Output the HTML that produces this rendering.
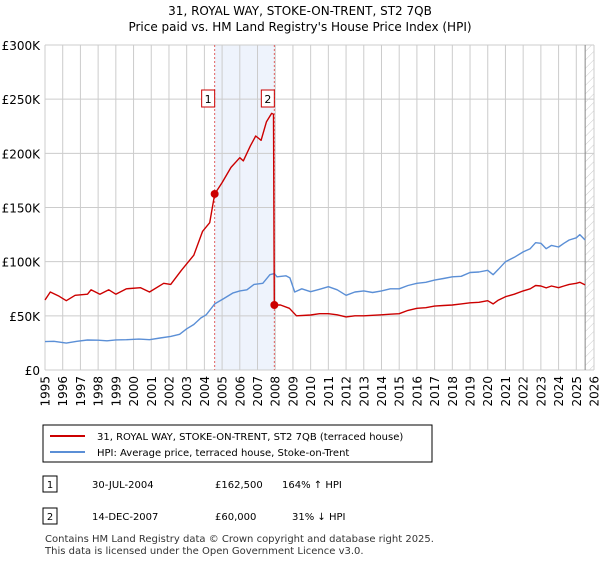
<!DOCTYPE html>
<html><head><meta charset="utf-8"><style>
body{margin:0;background:#fff;font-family:"DejaVu Sans","Liberation Sans",sans-serif;}
svg text{font-family:"DejaVu Sans","Liberation Sans",sans-serif;}
</style></head><body>
<svg id="c" width="600" height="560" viewBox="0 0 600 560">
<defs><pattern id="hatch" width="6" height="6" patternUnits="userSpaceOnUse" patternTransform="rotate(45)"><line x1="0" y1="0" x2="0" y2="6" stroke="#ccc" stroke-width="1"/></pattern></defs>
<text x="300" y="15" text-anchor="middle" font-size="12" fill="#000">31, ROYAL WAY, STOKE-ON-TRENT, ST2 7QB</text>
<text x="300" y="31" text-anchor="middle" font-size="12" fill="#000">Price paid vs. HM Land Registry's House Price Index (HPI)</text>
<g id="grid"></g><g id="marks"></g>
<g>
<rect x="43" y="425" width="389" height="37" fill="#fff" stroke="#000" stroke-width="1"/>
<line x1="50" y1="436" x2="85" y2="436" stroke="#c00" stroke-width="2"/>
<text x="97" y="440" font-size="10">31, ROYAL WAY, STOKE-ON-TRENT, ST2 7QB (terraced house)</text>
<line x1="50" y1="452" x2="85" y2="452" stroke="#5b8fd6" stroke-width="2"/>
<text x="97" y="456" font-size="10">HPI: Average price, terraced house, Stoke-on-Trent</text>
</g>
<g font-size="10">
<rect x="43" y="476" width="14" height="16" fill="#fff" stroke="#000"/><text x="50" y="488" text-anchor="middle">1</text>
<text x="92" y="488">30-JUL-2004</text><text x="215" y="488">£162,500</text><text x="282" y="488">164% ↑ HPI</text>
<rect x="43" y="508" width="14" height="16" fill="#fff" stroke="#000"/><text x="50" y="520" text-anchor="middle">2</text>
<text x="92" y="520">14-DEC-2007</text><text x="215" y="520">£60,000</text><text x="292" y="520">31% ↓ HPI</text>
</g>
<text x="45" y="542" font-size="10" fill="#333">Contains HM Land Registry data © Crown copyright and database right 2025.</text>
<text x="45" y="554" font-size="10" fill="#333">This data is licensed under the Open Government Licence v3.0.</text>
</svg>
<script>
const yTicks=[0,50000,100000,150000,200000,250000,300000];
const yTickLabels=["£0","£50K","£100K","£150K","£200K","£250K","£300K"];
const xYears=[1995,1996,1997,1998,1999,2000,2001,2002,2003,2004,2005,2006,2007,2008,2009,2010,2011,2012,2013,2014,2015,2016,2017,2018,2019,2020,2021,2022,2023,2024,2025,2026];
const sales=[{n:"1",t:2004.58,v:162500},{n:"2",t:2007.95,v:60000}];
const hpiT=[1995.0,1995.5,1996.2,1996.8,1997.4,1998.0,1998.5,1999.0,1999.6,2000.3,2000.9,2001.5,2002.1,2002.6,2003.0,2003.4,2003.8,2004.1,2004.58,2005.1,2005.6,2006.0,2006.4,2006.8,2007.3,2007.7,2007.95,2008.1,2008.6,2008.83,2009.1,2009.5,2010.0,2010.5,2011.0,2011.5,2012.0,2012.5,2013.0,2013.5,2014.0,2014.5,2015.0,2015.5,2016.0,2016.5,2017.0,2017.5,2018.0,2018.5,2019.0,2019.5,2020.0,2020.3,2020.6,2021.0,2021.5,2022.0,2022.4,2022.7,2023.0,2023.3,2023.6,2024.0,2024.3,2024.6,2025.0,2025.2,2025.5];
const hpiV=[26200,26500,24800,26500,27700,27500,27000,27800,28000,28500,28000,29500,31000,33000,38000,42000,48000,51000,61000,66000,71000,73000,74000,79000,80000,88000,89000,86000,87000,85000,72000,75000,72300,74500,76900,74000,69000,72000,73000,71500,73000,75000,75000,78000,80000,81000,83000,84500,86000,86500,90000,90500,92000,88000,93000,100000,104000,109000,112000,117500,117000,112000,115000,113500,117000,120000,122000,125000,120000];
const priceT=[1995.0,1995.3,1995.8,1996.2,1996.7,1997.4,1997.6,1998.1,1998.6,1999.0,1999.6,2000.4,2000.9,2001.7,2002.1,2002.7,2003.4,2003.9,2004.3,2004.58,2005.0,2005.5,2006.0,2006.2,2006.6,2006.9,2007.2,2007.5,2007.8,2007.9,2007.95,2008.3,2008.8,2009.2,2010.0,2010.5,2011.0,2011.5,2012.0,2012.5,2013.0,2013.5,2014.0,2014.5,2015.0,2015.5,2016.0,2016.5,2017.0,2017.5,2018.0,2018.5,2019.0,2019.5,2020.0,2020.3,2020.6,2021.0,2021.5,2022.0,2022.4,2022.7,2023.0,2023.3,2023.6,2024.0,2024.3,2024.6,2025.0,2025.2,2025.5];
const priceV=[64600,72000,68000,64000,69000,70000,74000,70000,74000,70000,75000,76000,72000,80000,79000,92000,106000,128000,136000,162500,173000,187000,196000,193000,207000,216000,212000,229000,237000,236000,60000,60000,57000,50000,50800,52000,52000,51000,49000,50000,50000,50500,51000,51500,52000,55000,57000,57500,59000,59500,60000,61000,62000,62500,64000,61000,64500,67700,70000,73000,75000,78000,77500,75800,77500,76000,77500,79000,80000,81000,78600];
const X0=45,X1=594,Y0=370,Y1=45;
function xs(t){return X0+(t-1995)/(2026-1995)*(X1-X0);}
function ys(v){return Y0-(v/300000)*(Y0-Y1);}
const NS="http://www.w3.org/2000/svg";
function mk(tag,attrs,parent){const e=document.createElementNS(NS,tag);for(const k in attrs)e.setAttribute(k,attrs[k]);parent.appendChild(e);return e;}
const g=document.getElementById('grid'),m=document.getElementById('marks');
let r=mk('rect',{x:xs(sales[0].t),y:Y1,width:xs(sales[1].t)-xs(sales[0].t),height:Y0-Y1,fill:'#eef3fc'},g);


r=mk('rect',{x:xs(2025.5),y:Y1,width:X1-xs(2025.5),height:Y0-Y1,fill:'url(#hatch)'},g);


xYears.forEach(yr=>{
 mk('line',{x1:xs(yr),x2:xs(yr),y1:Y1,y2:Y0,stroke:'#ccc','stroke-width':1},g);
 const x=xs(yr)+4.5,y=376;
 const t=mk('text',{x:x,y:y,'text-anchor':'end','font-size':12,transform:'rotate(-90 '+x+' '+y+')'},g);t.textContent=yr;
 
 
});
yTicks.forEach((v,i)=>{
 mk('line',{x1:X0,x2:X1,y1:ys(v),y2:ys(v),stroke:'#ccc','stroke-width':1},g);
 const t=mk('text',{x:40,y:ys(v)+5,'text-anchor':'end','font-size':12},g);t.textContent=yTickLabels[i];
 
 
});
mk('line',{x1:xs(2025.5),x2:xs(2025.5),y1:Y1,y2:Y0,stroke:'#888','stroke-width':1},g);
sales.forEach(s=>{const l=mk('line',{x1:xs(s.t),x2:xs(s.t),y1:Y1,y2:Y0,stroke:'#e06060','stroke-width':1,'stroke-dasharray':'2,2'},g);
 
 });
function path(T,V,col,name){const d=T.map((t,i)=>(i?'L':'M')+xs(t).toFixed(1)+','+ys(V[i]).toFixed(1)).join('');
 const p=mk('path',{d:d,fill:'none',stroke:col,'stroke-width':1.4,'stroke-linejoin':'round'},m);
 
 }
path(hpiT,hpiV,'#5b8fd6','hpi-line');
path(priceT,priceV,'#c00','price-paid-line');
sales.forEach(s=>{
 const c=mk('circle',{cx:xs(s.t),cy:ys(s.v),r:4,fill:'#c00'},m);
 
 
 const bx=xs(s.t)-14;
 const b=mk('rect',{x:bx+1,y:90,width:13,height:17,fill:'#fff',stroke:'#c00','stroke-width':1},m);
 
 
 const t=mk('text',{x:bx+7.5,y:103,'text-anchor':'middle','font-size':11},m);t.textContent=s.n;
 
 
});
</script>
</body></html>
